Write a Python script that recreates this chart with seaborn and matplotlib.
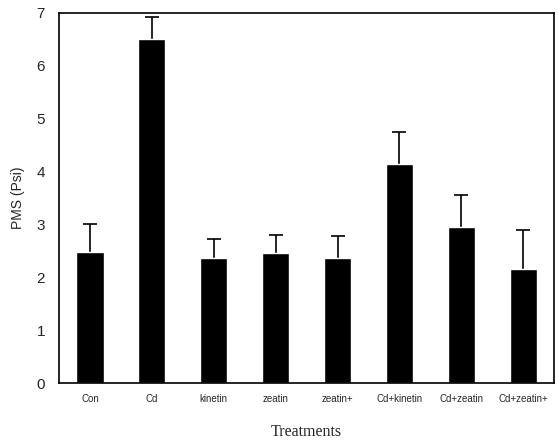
import matplotlib
matplotlib.use('Agg')
import matplotlib.pyplot as plt
import seaborn as sns
import pandas as pd

# Values
treatments = ['Con', 'Cd', 'kinetin', 'zeatin', 'zeatin+', 'Cd+kinetin', 'Cd+zeatin', 'Cd+zeatin+']
pms = [2.48, 6.50, 2.37, 2.46, 2.37, 4.14, 2.95, 2.16]
err = [0.52, 0.42, 0.35, 0.35, 0.42, 0.60, 0.60, 0.73]

sns.set_style('white')
plt.rcParams['font.family'] = ['Liberation Sans', 'DejaVu Sans']

df = pd.DataFrame({'Treatments': treatments, 'PMS': pms})

fig = plt.figure(figsize=(5.59, 4.45), dpi=100)
ax = fig.add_axes([0.1055, 0.139, 0.886, 0.832])
# error bars go under the bars, so only the upper half shows
ax.errorbar(range(len(treatments)), pms, yerr=err, fmt='none',
            ecolor='black', elinewidth=1.2, capsize=5, capthick=1.2, zorder=1)
sns.barplot(data=df, x='Treatments', y='PMS', color='black', width=0.44,
            saturation=1, ax=ax, zorder=2)

ax.set_xlim(-0.5, 7.5)
ax.set_ylim(0, 7)
ax.set_yticks(range(8))
ax.tick_params(axis='y', labelsize=11, length=0, pad=10)
ax.tick_params(axis='x', labelsize=7, length=0, pad=8)
ax.set_ylabel('PMS (Psi)', fontsize=10, labelpad=8)
ax.set_xlabel('Treatments', fontsize=11.5, family='Liberation Serif', labelpad=14)
for s in ax.spines.values():
    s.set_color('black')
    s.set_linewidth(1.2)
    s.set_zorder(3)

fig.savefig('out.png', dpi=100)
